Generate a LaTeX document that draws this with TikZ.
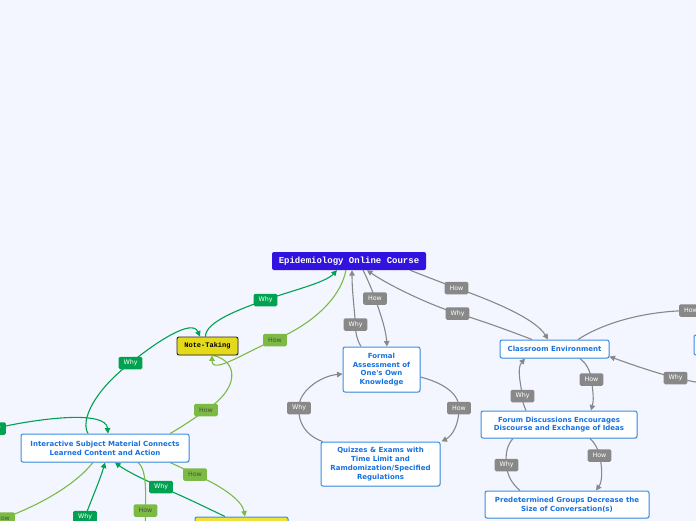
\documentclass[tikz,border=0pt]{standalone}
\usepackage{fontspec}
\newfontfamily\nodef{DejaVu Sans}
\newfontfamily\monof{Liberation Mono}
\usetikzlibrary{arrows.meta,shadows,backgrounds}
\definecolor{bgc}{RGB}{243,246,254}
\definecolor{rootblue}{RGB}{50,18,222}
\definecolor{nodeblue}{RGB}{58,142,230}
\definecolor{textblue}{RGB}{24,113,224}
\definecolor{labgray}{RGB}{136,136,136}
\definecolor{linegray}{RGB}{136,136,136}
\definecolor{dgreen}{RGB}{0,161,80}
\definecolor{lgreen}{RGB}{124,187,67}
\definecolor{noteyellow}{RGB}{229,217,28}
\definecolor{botyellow}{RGB}{240,226,60}
\begin{document}
\begin{tikzpicture}[x=1pt,y=-1pt,
  bnode/.style={draw=nodeblue,line width=1pt,fill=white,rounded corners=2pt,inner sep=0pt,align=center,text=textblue,
    font=\nodef\bfseries\fontsize{7}{8.8}\selectfont,
    drop shadow={shadow xshift=0.8pt,shadow yshift=-0.8pt,opacity=0.2}},
  rootbox/.style={fill=rootblue,rounded corners=2pt,inner sep=0pt,minimum width=154pt,minimum height=18pt,text=white,
    font=\monof\bfseries\fontsize{9}{10}\selectfont},
  notebox/.style={fill=noteyellow,draw=black!85,line width=0.9pt,rounded corners=2pt,inner sep=0pt,minimum width=61pt,minimum height=18pt,
    font=\monof\bfseries\fontsize{7}{8}\selectfont,drop shadow={shadow xshift=0.8pt,shadow yshift=-0.8pt,opacity=0.2}},
  lbl/.style={rounded corners=1.5pt,inner ysep=0pt,inner xsep=5pt,minimum height=12.5pt,font=\nodef\fontsize{6.3}{7}\selectfont},
  glab/.style={lbl,fill=labgray,text=white},
  dlab/.style={lbl,fill=dgreen,text=white},
  llab/.style={lbl,fill=lgreen,text=black!70},
  gline/.style={draw=linegray,line width=1.1pt},
  dline/.style={draw=dgreen,line width=1.1pt},
  lline/.style={draw=lgreen,line width=1.1pt},
  arrowend/.style={-{Triangle[length=5.5pt,width=5.5pt]}},
]
\useasboundingbox (0,0) rectangle (696,520);

% main nodes
\node[rootbox] (root) at (349,261) {Epidemiology Online Course};
\node[notebox] (note) at (207.5,346) {Note-Taking};
\node[bnode,minimum width=77pt,minimum height=45pt] (formal) at (381.5,369.5) {Formal\\Assessment of\\One's Own\\Knowledge};
\node[bnode,minimum width=119pt,minimum height=44pt] (quiz) at (380.5,464) {Quizzes \& Exams with\\Time Limit and\\Ramdomization/Specified\\Regulations};
\node[bnode,minimum width=109pt,minimum height=18pt] (class) at (554.5,349) {Classroom Environment};
\node[bnode,minimum width=156pt,minimum height=27pt] (forum) at (559,424.5) {Forum Discussions Encourages\\Discourse and Exchange of Ideas};
\node[bnode,minimum width=164pt,minimum height=27pt] (pred) at (567,504.5) {Predetermined Groups Decrease the\\Size of Conversation(s)};
\node[bnode,minimum width=168pt,minimum height=28pt] (inter) at (105,448) {Interactive Subject Material Connects\\Learned Content and Action};
\node[bnode,minimum width=26pt,minimum height=20pt] (rnode) at (707,345) {};
\node[bnode,fill=botyellow,minimum width=93pt,minimum height=26pt] (botnode) at (241.5,530) {};

% labels
\node[glab] (h1) at (456.5,288) {How};
\node[glab] (w1) at (457.5,313.5) {Why};
\node[glab] (h2) at (375,298.5) {How};
\node[glab] (w2) at (355.5,324.5) {Why};
\node[glab] (w3) at (299,408) {Why};
\node[glab] (h3) at (459,408) {How};
\node[glab] (w4) at (522.5,396) {Why};
\node[glab] (h4) at (591.5,379.5) {How};
\node[glab] (w5) at (506.5,465) {Why};
\node[glab] (h5) at (599.5,455.5) {How};
\node[glab] (h6) at (691,310.5) {How};
\node[glab] (w6) at (675.5,378) {Why};
\node[dlab] (gw1) at (265.5,300) {Why};
\node[llab] (gh1) at (275,340) {How};
\node[dlab] (gw2) at (130.5,363) {Why};
\node[llab] (gh2) at (206,410) {How};
\node[dlab] (gw3) at (-6,428.5) {Why};
\node[llab] (gh3) at (195,474.5) {How};
\node[dlab] (gw4) at (161,487) {Why};
\node[dlab] (gw5) at (85,517) {Why};
\node[llab] (gh4) at (145.5,510.5) {How};
\node[llab] (gh5) at (3,518.5) {How};

\coordinate (rfree) at (720,386);
\coordinate (f8) at (74,545);
\coordinate (f9) at (146,545);
\coordinate (f10) at (-20,527);

\begin{scope}[on background layer]
\fill[bgc] (-30,-30) rectangle (730,560);
% gray connectors
\draw[gline,arrowend] ([xshift=61pt]root.south) .. controls (425,276) and (440,282) .. (h1.center) .. controls (490,300) and (535,318) .. ([xshift=-6.5pt]class.north);
\draw[gline,arrowend] ([xshift=-22.5pt]class.north) .. controls (510,331) and (480,320) .. (w1.center) .. controls (430,305) and (390,286) .. ([xshift=18pt]root.south);
\draw[gline,arrowend] ([xshift=14pt]root.south) .. controls (368,280) and (372,290) .. (h2.center) .. controls (380,312) and (386,330) .. ([xshift=5.5pt]formal.north);
\draw[gline,arrowend] ([xshift=-20.5pt]formal.north) .. controls (357,340) and (355,332) .. (w2.center) .. controls (354,305) and (352,290) .. ([xshift=3pt]root.south);
\draw[gline,arrowend] ([yshift=-7.5pt]formal.east) .. controls (440,382) and (459,392) .. (h3.center) .. controls (459,425) and (452,436) .. ([xshift=1pt]quiz.north east);
\draw[gline,arrowend] ([xshift=-58pt]quiz.north) .. controls (305,435) and (298,422) .. (w3.center) .. controls (298,392) and (320,376) .. ([yshift=-4.5pt]formal.west);
\draw[gline,arrowend] ([xshift=25.5pt]class.south) .. controls (586,363) and (590,370) .. (h4.center) .. controls (593,392) and (594,400) .. ([xshift=32pt]forum.north);
\draw[gline,arrowend] ([xshift=-33pt]forum.north) .. controls (524,406) and (522,401) .. (w4.center) .. controls (520,381) and (517,368) .. ([xshift=-29.5pt]class.south);
\draw[gline,arrowend] ([xshift=31pt]forum.south) .. controls (595,443) and (598,449) .. (h5.center) .. controls (603,470) and (602,482) .. ([xshift=29pt]pred.north);
\draw[gline] ([xshift=-47pt]pred.north) .. controls (512,484) and (507,475) .. (w5.center) .. controls (505,452) and (508,444) .. ([xshift=-46pt]forum.south);
\draw[gline] ([xshift=23.5pt]class.north) .. controls (600,325) and (640,311) .. (h6.center) .. controls (705,310) and (712,320) .. (rnode.north);
\draw[gline,arrowend] (rfree) .. controls (705,384) and (690,381) .. (w6.center) .. controls (650,371) and (630,364) .. ([yshift=-7.5pt]class.east);
% green connectors
\draw[dline,arrowend] ([xshift=-2pt]note.north) .. controls (205,322) and (240,309) .. (gw1.center) .. controls (290,291) and (325,283) .. ([xshift=-12pt]root.south);
\draw[lline,arrowend] ([xshift=-3pt]root.south) .. controls (340,300) and (310,325) .. (gh1.center) .. controls (245,352) and (212,375) .. ([xshift=4.5pt]note.south);
\draw[dline,arrowend] ([xshift=-17pt]inter.north) .. controls (80,420) and (95,390) .. (gw2.center) .. controls (155,343) and (192,318) .. ([xshift=-7.5pt]note.north);
\draw[lline] ([xshift=6pt]note.south) .. controls (240,362) and (238,390) .. (gh2.center) .. controls (195,418) and (180,428) .. ([xshift=65pt]inter.north);
\draw[dline,arrowend] (gw3.center) .. controls (40,418) and (106,410) .. ([xshift=3pt]inter.north);
\draw[lline,arrowend] ([xshift=65pt]inter.south) .. controls (178,466) and (186,470) .. (gh3.center) .. controls (220,485) and (242,500) .. ([xshift=3.5pt]botnode.north);
\draw[dline,arrowend] ([xshift=-16.5pt]botnode.north) .. controls (205,507) and (185,497) .. (gw4.center) .. controls (140,478) and (125,470) .. ([xshift=10pt]inter.south);
\draw[dline,arrowend] (f8) .. controls (79,532) and (82,524) .. (gw5.center) .. controls (92,498) and (100,480) .. (inter.south);
\draw[lline] ([xshift=33pt]inter.south) .. controls (146,468) and (146,490) .. (gh4.center) .. controls (145,522) and (146,532) .. (f9);
\draw[lline] ([xshift=-12pt]inter.south) .. controls (75,485) and (40,505) .. (gh5.center) .. controls (-5,521) and (-12,524) .. (f10);
\end{scope}
\end{tikzpicture}
\end{document}
